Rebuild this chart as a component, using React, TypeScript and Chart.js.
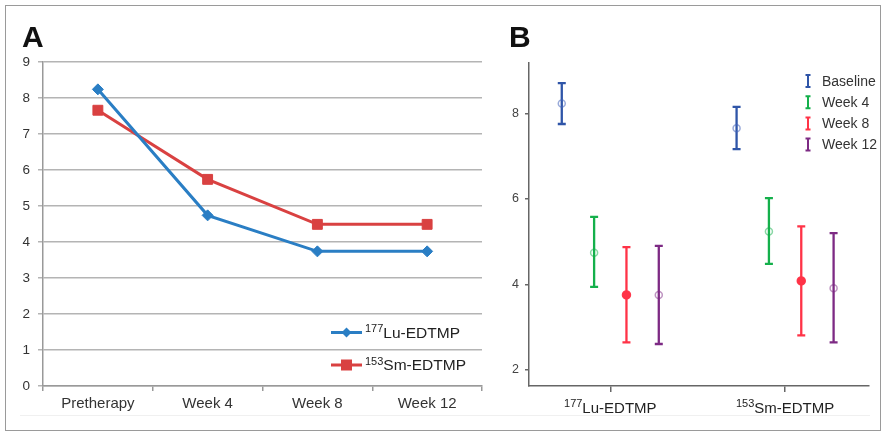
import React, { useEffect, useRef } from "react";
import { Chart, registerables } from "chart.js";

Chart.register(...registerables);

const FONT = "'Liberation Sans', Arial, Helvetica, sans-serif";
Chart.defaults.font.family = FONT;

// ---------- Panel A data ----------
const timeLabelsA = ["Pretherapy", "Week 4", "Week 8", "Week 12"];
const luValuesA = [8.24, 4.74, 3.74, 3.74];
const smValuesA = [7.66, 5.74, 4.49, 4.49];
const yTicksA = [0, 1, 2, 3, 4, 5, 6, 7, 8, 9];
const seriesIsotopesA = ["177", "153"];
const seriesNamesA = ["Lu-EDTMP", "Sm-EDTMP"];

// ---------- Panel B data ----------
const timepointsB = ["Baseline", "Week 4", "Week 8", "Week 12"];
const agentIsotopesB = ["177", "153"];
const agentNamesB = ["Lu-EDTMP", "Sm-EDTMP"];
const luMeanB = [8.24, 4.74, 3.75, 3.75];
const luLowB = [7.76, 3.94, 2.64, 2.6];
const luHighB = [8.72, 5.58, 4.87, 4.9];
const smMeanB = [7.66, 5.24, 4.08, 3.91];
const smLowB = [7.17, 4.48, 2.8, 2.64];
const smHighB = [8.16, 6.02, 5.36, 5.2];
const yTicksB = [2, 4, 6, 8];

const BLUE_A = "#2a7ec4";
const RED_A = "#d94141";
const colorsB = ["#2f55a8", "#14b04b", "#ff3347", "#7d2a84"];
const markerBorderB = [
  "rgba(70,100,185,0.55)",
  "rgba(20,176,75,0.5)",
  "rgba(255,51,71,0.95)",
  "rgba(125,42,132,0.5)",
];
const markerFillB = ["rgba(0,0,0,0)", "rgba(0,0,0,0)", "#ff3347", "rgba(0,0,0,0)"];

const OFFSET_STEP = 0.185;

function drawSupText(
  ctx: CanvasRenderingContext2D,
  sup: string,
  main: string,
  x: number,
  y: number,
  align: "left" | "center",
  mainPx: number,
  supPx: number,
  raise: number,
  color: string
) {
  ctx.save();
  ctx.fillStyle = color;
  ctx.textBaseline = "alphabetic";
  ctx.textAlign = "left";
  ctx.font = `${supPx}px ${FONT}`;
  const sw = ctx.measureText(sup).width;
  ctx.font = `${mainPx}px ${FONT}`;
  const mw = ctx.measureText(main).width;
  const left = align === "center" ? x - (sw + mw) / 2 : x;
  ctx.font = `${supPx}px ${FONT}`;
  ctx.fillText(sup, left, y - raise);
  ctx.font = `${mainPx}px ${FONT}`;
  ctx.fillText(main, left + sw, y);
  ctx.restore();
}

export default function App() {
  const refA = useRef<HTMLCanvasElement | null>(null);
  const refB = useRef<HTMLCanvasElement | null>(null);

  useEffect(() => {
    const plugA = {
      id: "panelA",
      afterDraw(chart: any) {
        const ctx: CanvasRenderingContext2D = chart.ctx;
        ctx.save();
        ctx.fillStyle = "#111";
        ctx.font = `bold 30px ${FONT}`;
        ctx.textBaseline = "alphabetic";
        ctx.fillText("A", 22, 47);
        // legend
        const rows = [332.5, 365];
        const colors = [BLUE_A, RED_A];
        rows.forEach((ry, i) => {
          ctx.strokeStyle = colors[i];
          ctx.lineWidth = 3;
          ctx.beginPath();
          ctx.moveTo(331, ry);
          ctx.lineTo(362, ry);
          ctx.stroke();
          ctx.fillStyle = colors[i];
          ctx.beginPath();
          const cx = 346.5;
          if (i === 0) {
            ctx.moveTo(cx, ry - 5);
            ctx.lineTo(cx + 5, ry);
            ctx.lineTo(cx, ry + 5);
            ctx.lineTo(cx - 5, ry);
            ctx.closePath();
          } else {
            ctx.rect(cx - 5.5, ry - 5.5, 11, 11);
          }
          ctx.fill();
          drawSupText(ctx, seriesIsotopesA[i], seriesNamesA[i], 365, ry + 5, "left", 15.5, 11, 5.5, "#222");
        });
        ctx.restore();
      },
    };

    const chartA = new Chart(refA.current as HTMLCanvasElement, {
      type: "line",
      data: {
        labels: timeLabelsA,
        datasets: [
          {
            label: seriesIsotopesA[0] + seriesNamesA[0],
            data: luValuesA,
            borderColor: BLUE_A,
            backgroundColor: BLUE_A,
            borderWidth: 3,
            pointStyle: "rectRot",
            pointRadius: 5.5,
            pointBorderWidth: 1,
            tension: 0,
          },
          {
            label: seriesIsotopesA[1] + seriesNamesA[1],
            data: smValuesA,
            borderColor: RED_A,
            backgroundColor: RED_A,
            borderWidth: 3,
            pointStyle: "rect",
            pointRadius: 7,
            pointBorderWidth: 1,
            tension: 0,
          },
        ],
      },
      options: {
        responsive: false,
        animation: false,
        layout: { padding: { top: 62, right: 7, left: 0, bottom: 0 } },
        plugins: { legend: { display: false }, tooltip: { enabled: false } },
        scales: {
          x: {
            offset: true,
            grid: {
              offset: true,
              drawOnChartArea: false,
              drawTicks: true,
              tickLength: 5,
              color: "#999",
              lineWidth: 1.5,
            },
            border: { color: "#999", width: 1.5 },
            ticks: { color: "#333", font: { size: 15 }, padding: 4, maxRotation: 0, autoSkip: false },
            afterFit: (s: any) => {
              s.height = 45;
            },
          },
          y: {
            min: 0,
            max: 9,
            afterBuildTicks: (s: any) => {
              s.ticks = yTicksA.map((v) => ({ value: v }));
            },
            grid: { color: "#b4b4b4", lineWidth: 1.5, tickLength: 5, drawTicks: true },
            border: { color: "#999", width: 1.5 },
            ticks: { color: "#333", font: { size: 13.5 }, padding: 8 },
            afterFit: (s: any) => {
              s.width = 43;
            },
          },
        },
      } as any,
      plugins: [plugA],
    });

    const meansB = [luMeanB, smMeanB];
    const lowsB = [luLowB, smLowB];
    const highsB = [luHighB, smHighB];

    const plugB = {
      id: "panelB",
      beforeDatasetsDraw(chart: any) {
        const ctx: CanvasRenderingContext2D = chart.ctx;
        const yScale = chart.scales.y;
        ctx.save();
        timepointsB.forEach((_, t) => {
          const meta = chart.getDatasetMeta(t);
          meta.data.forEach((pt: any, g: number) => {
            const x = pt.x;
            const yl = yScale.getPixelForValue(lowsB[g][t]);
            const yh = yScale.getPixelForValue(highsB[g][t]);
            ctx.strokeStyle = colorsB[t];
            ctx.lineWidth = 2.3;
            ctx.beginPath();
            ctx.moveTo(x, yh);
            ctx.lineTo(x, yl);
            ctx.moveTo(x - 4, yh);
            ctx.lineTo(x + 4, yh);
            ctx.moveTo(x - 4, yl);
            ctx.lineTo(x + 4, yl);
            ctx.stroke();
          });
        });
        ctx.restore();
      },
      afterDraw(chart: any) {
        const ctx: CanvasRenderingContext2D = chart.ctx;
        const xScale = chart.scales.x;
        ctx.save();
        ctx.fillStyle = "#111";
        ctx.font = `bold 30px ${FONT}`;
        ctx.textBaseline = "alphabetic";
        ctx.fillText("B", 19, 47);
        // x labels
        agentNamesB.forEach((name, g) => {
          const px = xScale.getPixelForValue(g + 1);
          drawSupText(ctx, agentIsotopesB[g], name, px, 413, "center", 15, 11, 6, "#222");
        });
        // legend
        timepointsB.forEach((tp, t) => {
          const ry = 81 + t * 21.2;
          const ix = 318;
          ctx.strokeStyle = colorsB[t];
          ctx.lineWidth = 2;
          ctx.beginPath();
          ctx.moveTo(ix, ry - 6);
          ctx.lineTo(ix, ry + 6);
          ctx.moveTo(ix - 2.5, ry - 6);
          ctx.lineTo(ix + 2.5, ry - 6);
          ctx.moveTo(ix - 2.5, ry + 6);
          ctx.lineTo(ix + 2.5, ry + 6);
          ctx.stroke();
          ctx.fillStyle = "#333";
          ctx.font = `14px ${FONT}`;
          ctx.textBaseline = "middle";
          ctx.textAlign = "left";
          ctx.fillText(tp, 332, ry + 1);
        });
        ctx.restore();
      },
    };

    const chartB = new Chart(refB.current as HTMLCanvasElement, {
      type: "scatter",
      data: {
        datasets: timepointsB.map((tp, t) => ({
          label: tp,
          data: agentNamesB.map((_, g) => ({ x: g + 1 + (t - 1.5) * OFFSET_STEP, y: meansB[g][t] })),
          pointRadius: t === 2 ? 4 : 3.5,
          pointBorderWidth: 1.5,
          pointBorderColor: markerBorderB[t],
          pointBackgroundColor: markerFillB[t],
          showLine: false,
        })),
      },
      options: {
        responsive: false,
        animation: false,
        layout: { padding: { top: 63, right: 15, left: 0, bottom: 0 } },
        plugins: { legend: { display: false }, tooltip: { enabled: false } },
        scales: {
          x: {
            type: "linear",
            min: 0.535,
            max: 2.48,
            afterBuildTicks: (s: any) => {
              s.ticks = agentNamesB.map((_, g) => ({ value: g + 1 }));
            },
            grid: { drawOnChartArea: false, drawTicks: true, tickLength: 6, color: "#666", lineWidth: 1.5 },
            border: { color: "#666", width: 1.5 },
            ticks: { display: false },
            afterFit: (s: any) => {
              s.height = 45;
            },
          },
          y: {
            min: 1.615,
            max: 9.19,
            afterBuildTicks: (s: any) => {
              s.ticks = yTicksB.map((v) => ({ value: v }));
            },
            grid: { drawOnChartArea: false, drawTicks: true, tickLength: 4, color: "#666", lineWidth: 1.5 },
            border: { color: "#666", width: 1.5 },
            ticks: { color: "#444", font: { size: 12.5 }, padding: 6 },
            afterFit: (s: any) => {
              s.width = 39;
            },
          },
        },
      } as any,
      plugins: [plugB],
    });

    return () => {
      chartA.destroy();
      chartB.destroy();
    };
  }, []);

  return (
    <div style={{ position: "fixed", left: 0, top: 0, width: 884, height: 431, background: "#fff", overflow: "hidden" }}>
      <div
        style={{
          position: "absolute",
          left: 5,
          top: 5,
          width: 876,
          height: 426,
          boxSizing: "border-box",
          border: "1.5px solid #9a9a9a",
        }}
      />
      <div style={{ position: "absolute", left: 20, top: 415, width: 850, height: 1, background: "#f0f0f0" }} />
      <canvas ref={refA} width={490} height={431} style={{ position: "absolute", left: 0, top: 0 }} />
      <canvas ref={refB} width={394} height={431} style={{ position: "absolute", left: 490, top: 0 }} />
    </div>
  );
}
